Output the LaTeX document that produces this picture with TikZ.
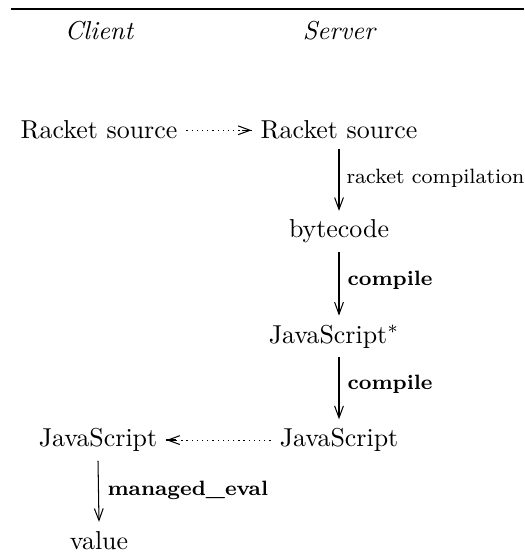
\documentclass[tikz,border=0pt]{standalone}
\usetikzlibrary{arrows.meta,calc}
\begin{document}
\begin{tikzpicture}[x=0.3861pt,y=-0.3861pt,
  txt/.style={anchor=base},
  lbl/.style={font=\footnotesize, anchor=base west, inner sep=0pt},
  blbl/.style={lbl, font=\footnotesize\bfseries},
  tip/.style={-{Straight Barb[length=4.6pt,width=3.4pt]}},
  dotarrow/.style={tip, dash pattern=on 0.5pt off 1.5pt},
  stem/.style={line width=0.6pt}]
\useasboundingbox (0,0) rectangle (524,560);
\draw[line width=0.5pt] (11,9) -- (524,9);
\node[txt] (client) at (99,40) {\itshape Client};
\node[txt] (server) at (339,40) {\itshape Server};
\node[txt] (rsc) at (99,139) {Racket source};
\node[txt] (rss) at (339,139) {Racket source};
\node[txt] (bc) at (339,238) {bytecode};
\node[txt] (jss) at (334,343) {JavaScript$^*$};
\node[txt] (js) at (339,446.7) {JavaScript};
\node[txt] (jc) at (98,446.7) {JavaScript};
\node[txt] (val) at (99,549) {value};
\node[lbl] (l1) at (346,184) {racket compilation};
\node[blbl] (l2) at (347,286) {compile};
\node[blbl] (l3) at (347,389) {compile};
\node[blbl] (l4) at (107,495) {managed\_eval};
\draw[dotarrow] (rsc.east) -- (rss.west);
\draw[stem] ($(rss.west)+(-10,0)$) -- (rss.west);
\draw[tip] (rss.south) -- (bc.north);
\draw[tip] (bc.south) -- (bc.south |- jss.north);
\draw[tip] (bc.south |- jss.south) -- (js.north);
\draw[dotarrow] (js.west) -- (jc.east);
\draw[stem] ($(jc.east)+(10,0)$) -- (jc.east);
\draw[tip] (jc.south) -- (val.north);
\end{tikzpicture}
\end{document}
